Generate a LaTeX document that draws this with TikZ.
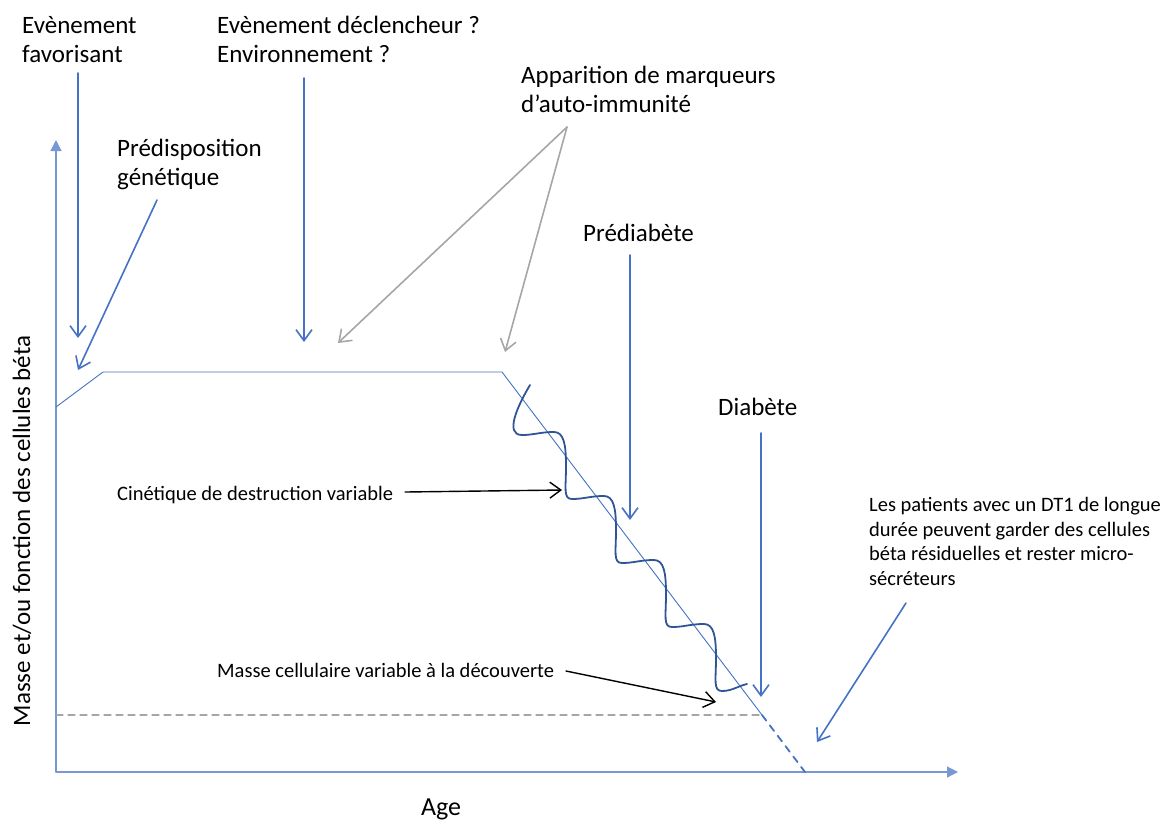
\documentclass[tikz,border=0pt]{standalone}
\usepackage{fontspec}
\setmainfont{Carlito}
\usetikzlibrary{arrows.meta}
\definecolor{officeblue}{RGB}{68,114,196}
\definecolor{axisblue}{RGB}{120,152,212}
\definecolor{wavyblue}{RGB}{47,85,151}
\definecolor{markgrey}{RGB}{166,166,166}
\begin{document}
\begin{tikzpicture}[line cap=round,line join=round,x=1pt,y=-1pt,
	bigtext/.style={anchor=base west,inner sep=0pt,align=left,font=\fontsize{25}{29}\selectfont},
	smalltext/.style={anchor=base west,inner sep=0pt,align=left,font=\fontsize{20.5}{24.5}\selectfont},
	bluearrow/.style={draw=officeblue,line width=1.6pt,-{Straight Barb[length=11pt,width=16pt]}},
	greyarrow/.style={draw=markgrey,line width=1.6pt,-{Straight Barb[length=11pt,width=16pt]}},
	blackarrow/.style={draw=black,line width=1.4pt,-{Straight Barb[length=11pt,width=16pt]}},
	axisline/.style={draw=axisblue,line width=1.2pt,-{Triangle[length=11pt,width=11pt]}},
	massline/.style={draw=officeblue,line width=0.9pt},
	wavy/.style={draw=wavyblue,line width=1.8pt}]
	\useasboundingbox (0,0) rectangle (1172,823);
	\coordinate (origin) at (56,772);
	\coordinate (ytip) at (56,140);
	\coordinate (xtip) at (958,772);
	\draw[axisline] (origin) -- (ytip);
	\draw[axisline] (origin) -- (xtip);
	\coordinate (m0) at (56,407);
	\coordinate (m1) at (103,372);
	\coordinate (m2) at (502,372);
	\coordinate (m3) at (762,715);
	\coordinate (m4) at (805,772);
	\coordinate (lowmass) at (56,715);
	\draw[massline] (m0) -- (m1) -- (m2) -- (m3);
	\draw[draw=officeblue,line width=1.8pt,dash pattern=on 7pt off 6pt] (m3) -- (m4);
	\draw[draw=markgrey,line width=1.3pt,dash pattern=on 7pt off 5pt] (lowmass) -- (m3);
	\draw[wavy] (530,385) .. controls (518,405) and (504,435) .. (522,435)
		foreach \i in {0,...,3} {
		.. controls ({534+50*\i},{435+64*\i}) and ({540+50*\i},{432+64*\i}) .. ({554+50*\i},{432+64*\i})
		.. controls ({564+50*\i},{432+64*\i}) and ({566+50*\i},{445+64*\i}) .. ({566+50*\i},{466+64*\i})
		.. controls ({566+50*\i},{488+64*\i}) and ({563+50*\i},{499+64*\i}) .. ({572+50*\i},{499+64*\i})}
		.. controls (732,691) and (738,686) .. (747,684);
	\node[bigtext] (favorisant) at (22,62) {Evènement\\favorisant};
	\node[bigtext] (declencheur) at (217,62) {Evènement déclencheur ?\\Environnement ?};
	\node[bigtext] (predisposition) at (117,185) {Prédisposition\\génétique};
	\node[bigtext] (marqueurs) at (521,112) {Apparition de marqueurs\\d’auto-immunité};
	\node[bigtext] (prediabete) at (583,241) {Prédiabète};
	\node[bigtext] (diabete) at (718,415) {Diabète};
	\node[smalltext] (patients) at (869,585) {Les patients avec un DT1 de longue\\durée peuvent garder des cellules\\béta résiduelles et rester micro-\\sécréteurs};
	\node[smalltext] (cinetique) at (117,500) {Cinétique de destruction variable};
	\node[smalltext] (decouverte) at (217,677) {Masse cellulaire variable à la découverte};
	\node[bigtext,anchor=base,font=\fontsize{26}{30}\selectfont] (age) at (441,815) {Age};
	\node[bigtext,anchor=center,rotate=90] (ylabel) at (22,531) {Masse et/ou fonction des cellules béta};
	\coordinate (favstart) at (78,73);
	\coordinate (favtip) at (78,338);
	\coordinate (genstart) at (157,200);
	\coordinate (gentip) at (78,370);
	\coordinate (envstart) at (304,78);
	\coordinate (envtip) at (304,342);
	\coordinate (autostart) at (567,127);
	\coordinate (autotipa) at (338,343);
	\coordinate (autotipb) at (505,352);
	\coordinate (prestart) at (630,255);
	\coordinate (pretip) at (630,520);
	\coordinate (diastart) at (761,433);
	\coordinate (diatip) at (761,697);
	\coordinate (patstart) at (906,603);
	\coordinate (pattip) at (817,742);
	\coordinate (cinstart) at (405,492);
	\coordinate (cintip) at (562,490);
	\coordinate (decstart) at (566,671);
	\coordinate (dectip) at (716,702);
	\draw[bluearrow] (favstart) -- (favtip);
	\draw[bluearrow] (genstart) -- (gentip);
	\draw[bluearrow] (envstart) -- (envtip);
	\draw[greyarrow] (autostart) -- (autotipa);
	\draw[greyarrow] (autostart) -- (autotipb);
	\draw[bluearrow] (prestart) -- (pretip);
	\draw[bluearrow] (diastart) -- (diatip);
	\draw[bluearrow] (patstart) -- (pattip);
	\draw[blackarrow] (cinstart) -- (cintip);
	\draw[blackarrow] (decstart) -- (dectip);
\end{tikzpicture}
\end{document}
